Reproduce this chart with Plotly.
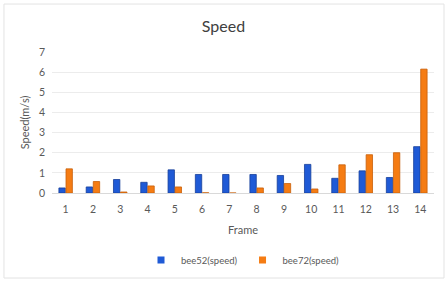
import plotly.graph_objects as go

frames = [str(i) for i in range(1, 15)]
bee52 = [0.25, 0.30, 0.67, 0.53, 1.15, 0.92, 0.92, 0.92, 0.87, 1.42, 0.73, 1.10, 0.77, 2.30]
bee72 = [1.20, 0.57, 0.05, 0.35, 0.30, 0.01, 0.0, 0.25, 0.47, 0.20, 1.40, 1.90, 2.00, 6.15]
series_names = ["bee52(speed)", "bee72(speed)"]

font = "Lato"
grey = "#595959"
blue, orange = "#1f5ad6", "#f57c13"

fig = go.Figure()
fig.add_trace(go.Bar(x=frames, y=bee52, name=series_names[0], showlegend=False,
                     marker=dict(color=blue, line=dict(color="#163f99", width=0.8))))
fig.add_trace(go.Bar(x=frames, y=bee72, name=series_names[1], showlegend=False,
                     marker=dict(color=orange, line=dict(color="#c8600a", width=0.8))))
# legend entries with small square symbols
for nm, col in zip(series_names, [blue, orange]):
    fig.add_trace(go.Scatter(x=[None], y=[None], mode="markers", name=nm,
                             marker=dict(symbol="square", size=7, color=col)))

fig.update_layout(
    width=447, height=282,
    margin=dict(l=52, r=13, t=52, b=89, autoexpand=False),
    paper_bgcolor="white", plot_bgcolor="white",
    title=dict(text="Speed", x=0.5, xanchor="center", y=0.908, yanchor="middle",
               font=dict(family=font, size=16, color="#404040")),
    font=dict(family=font, color=grey, size=10),
    barmode="group", bargap=0.48, bargroupgap=0.1,
    showlegend=True,
    legend=dict(orientation="h", x=0.5, xanchor="center", y=-0.475, yanchor="middle",
                font=dict(size=9.5, color=grey), itemwidth=30, traceorder="normal",
                tracegroupgap=0, itemclick=False),
    xaxis=dict(title=dict(text="Frame", font=dict(size=11, color=grey), standoff=12),
               showgrid=False, showline=True, linecolor="#d9d9d9", ticks="",
               ticklabelstandoff=6, tickfont=dict(size=10.5, color=grey)),
    yaxis=dict(title=dict(text="Speed(m/s)", font=dict(size=11, color=grey), standoff=7),
               range=[0, 7], dtick=1, showgrid=True, gridcolor="#ececec", zeroline=False,
               ticks="", ticklabelstandoff=6, tickfont=dict(size=10.5, color=grey)),
    shapes=[dict(type="rect", xref="paper", yref="paper", x0=-0.1257, x1=1.0262, y0=-0.603, y1=1.34,
                 line=dict(color="#e3e3e3", width=1), fillcolor="rgba(0,0,0,0)", layer="below")],
)

fig.write_html("out.html", config={"displayModeBar": False},
               post_script="document.body.style.margin='0';document.body.style.overflow='hidden';")
